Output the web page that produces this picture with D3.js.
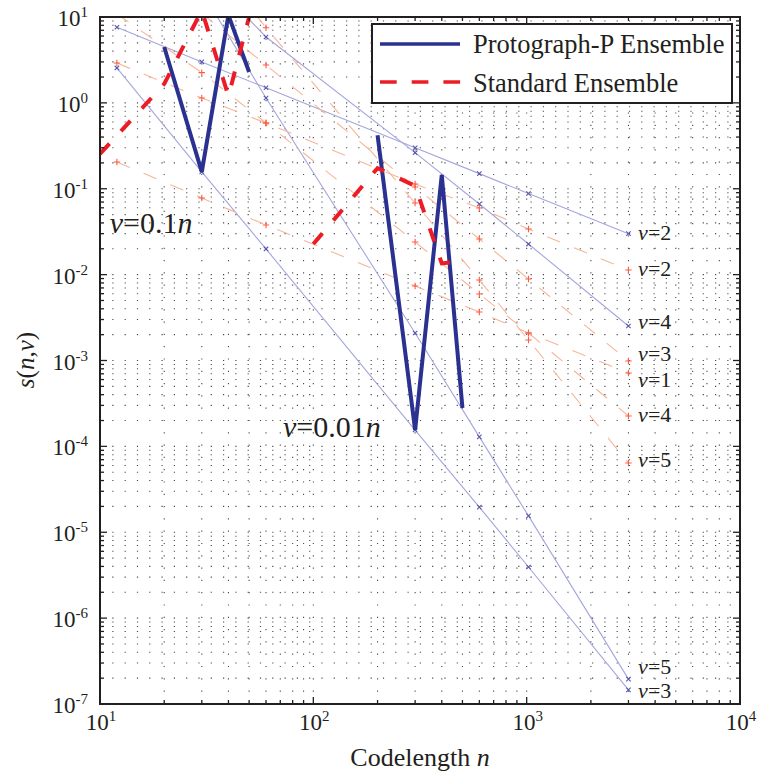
<!DOCTYPE html>
<html><head><meta charset="utf-8">
<script src="https://cdn.jsdelivr.net/npm/d3@7"></script>
<style>body{margin:0;background:#fff}svg{display:block}
text{font-family:'Liberation Serif','Times New Roman','DejaVu Serif',serif;}</style>
</head><body><svg id="c" width="758" height="771"></svg>
<script>
// ---- data ----
const nVals = [12, 30, 60, 300, 600, 1020, 3000];
const protoV2 = [7.6, 3.0, 1.5, 0.30, 0.15, 0.088, 0.030];
const protoV3 = [2.55, 0.157, 0.0199, 1.55e-4, 1.96e-5, 3.94e-6, 1.46e-7];
const protoV4 = [null, 35, 5.85, 0.263, 0.0664, 0.0227, 0.00252];
const protoV5 = [null, 20, 1.14, 2.09e-3, 1.29e-4, 1.55e-5, 1.95e-7];
const stdV1 = [0.205, 0.078, 0.0379, 0.00738, 0.00367, 0.00209, 7.15e-4];
const stdV2 = [2.91, 1.14, 0.583, 0.1136, 0.0597, 0.034, 0.0113];
const stdV3 = [null, 11, 2.76, 0.105, 0.026, 0.0089, 9.86e-4];
const stdV4 = [10.8, 2.25, 0.583, 0.024, 0.00594, 0.00209, 2.26e-4];
const stdV5 = [null, 67, 7.5, 0.0682, 0.00866, 0.00173, 6.4e-5];

const protoTenthN = [20, 30, 40, 50];
const protoTenthS = [4.47, 0.157, 10.5, 2.29];
const protoHundN = [200, 300, 400, 500];
const protoHundS = [0.42, 1.55e-4, 0.145, 2.8e-4];
const stdTenthN = [10, 20, 30, 40, 50];
const stdTenthS = [0.254, 1.66, 12, 1.2, 10];
const stdHundN = [100, 200, 300, 400, 500];
const stdHundS = [0.0227, 0.174, 0.108, 0.0135, 0.0144];

const legendLabels = ["Protograph-P Ensemble", "Standard Ensemble"];
const xTickLabels = ["1", "2", "3", "4"];
const yTickLabels = ["-7", "-6", "-5", "-4", "-3", "-2", "-1", "0", "1"];
const endLabelText = ["2", "2", "4", "3", "1", "4", "5", "5", "3"];
const endLabelS = [0.0253, 0.00964, 0.00233, 9.8e-4, 4.95e-4, 1.92e-4, 5.75e-5, 2.23e-7, 1.17e-7];
const endLabelN = 3330;

// ---- layout ----
const svg = d3.select('#c');
const L = 100, R = 740, T = 17, B = 704;
const x = d3.scaleLog().domain([10, 1e4]).range([L, R]);
const y = d3.scaleLog().domain([1e-7, 10]).range([B, T]);
const INK = '#231f20';

svg.append('rect').attr('width', 758).attr('height', 771).attr('fill', '#fff');
svg.append('defs').append('clipPath').attr('id', 'clip')
  .append('rect').attr('x', L).attr('y', T).attr('width', R - L).attr('height', B - T);

const isMajor = v => Math.abs(Math.log10(v) - Math.round(Math.log10(v))) < 1e-6;
const xt = x.ticks();
const yt = y.ticks();

// grid (dotted)
const grid = svg.append('g').attr('stroke', '#4a4a4a').attr('stroke-width', 1.1)
  .attr('stroke-dasharray', '1.2,11.1');
xt.filter(v => v > 10 && v < 1e4).forEach(v => {
  grid.append('line').attr('x1', x(v)).attr('x2', x(v)).attr('y1', B).attr('y2', T);
});
yt.filter(v => v > 1.0001e-7 && v < 9.999).forEach(v => {
  grid.append('line').attr('x1', L).attr('x2', R).attr('y1', y(v)).attr('y2', y(v));
});

const plot = svg.append('g').attr('clip-path', 'url(#clip)');
const line = d3.line().defined(d => d[1] != null).x(d => x(d[0])).y(d => y(d[1]));
const zipN = (ns, ss) => ns.map((n, i) => [n, ss[i]]);

// thin protograph lines
const protoSeries = [protoV2, protoV3, protoV4, protoV5];
protoSeries.forEach(s => {
  plot.append('path').attr('d', line(zipN(nVals, s))).attr('fill', 'none')
    .attr('stroke', '#a4a6dc').attr('stroke-width', 1.1);
});
// thin standard lines
const stdSeries = [stdV1, stdV2, stdV3, stdV4, stdV5];
stdSeries.forEach(s => {
  plot.append('path').attr('d', line(zipN(nVals, s))).attr('fill', 'none')
    .attr('stroke', '#f7b598').attr('stroke-width', 1.1).attr('stroke-dasharray', '14,15');
});
// markers
protoSeries.forEach(s => {
  zipN(nVals, s).filter(d => d[1] != null).forEach(d => {
    const cx = x(d[0]), cy = y(d[1]), r = 2.2;
    plot.append('path').attr('d', `M${cx - r},${cy - r}L${cx + r},${cy + r}M${cx - r},${cy + r}L${cx + r},${cy - r}`)
      .attr('stroke', '#5656b0').attr('stroke-width', 1.1);
  });
});
stdSeries.forEach(s => {
  zipN(nVals, s).filter(d => d[1] != null).forEach(d => {
    const cx = x(d[0]), cy = y(d[1]), r = 3.2;
    plot.append('path').attr('d', `M${cx - r},${cy}L${cx + r},${cy}M${cx},${cy - r}L${cx},${cy + r}`)
      .attr('stroke', '#ff5a44').attr('stroke-width', 1.1);
  });
});

// bold lines
[[protoTenthN, protoTenthS], [protoHundN, protoHundS]].forEach(([ns, ss]) => {
  plot.append('path').attr('d', line(zipN(ns, ss))).attr('fill', 'none')
    .attr('stroke', '#2b3190').attr('stroke-width', 4).attr('stroke-linejoin', 'miter');
});
[[stdTenthN, stdTenthS], [stdHundN, stdHundS]].forEach(([ns, ss]) => {
  plot.append('path').attr('d', line(zipN(ns, ss))).attr('fill', 'none')
    .attr('stroke', '#ed1c24').attr('stroke-width', 4).attr('stroke-dasharray', '14,17');
});

// annotations
function nuText(g, px, py, size, rest) {
  const t = g.append('text').attr('x', px).attr('y', py)
    .attr('font-size', size).attr('fill', INK);
  t.append('tspan').attr('font-style', 'italic').text('\u03bd');
  t.append('tspan').text('=' + rest.num);
  if (rest.n) t.append('tspan').attr('font-style', 'italic').text('n');
  return t;
}
const ann = svg.append('g');
endLabelText.forEach((t, i) => nuText(ann, x(endLabelN), y(endLabelS[i]), 22, {num: t}));
nuText(ann, x(11.1), y(0.0305), 30, {num: '0.1', n: true});
nuText(ann, x(72), y(1.29e-4), 30, {num: '0.01', n: true});

// axes box
const ax = svg.append('g').attr('stroke', INK);
ax.append('rect').attr('x', L).attr('y', T).attr('width', R - L).attr('height', B - T)
  .attr('fill', 'none').attr('stroke-width', 2);
xt.forEach(v => {
  const len = isMajor(v) ? 7 : 4;
  ax.append('line').attr('x1', x(v)).attr('x2', x(v)).attr('y1', B).attr('y2', B - len).attr('stroke-width', 1.3);
  ax.append('line').attr('x1', x(v)).attr('x2', x(v)).attr('y1', T).attr('y2', T + len).attr('stroke-width', 1.3);
});
yt.forEach(v => {
  const len = isMajor(v) ? 7 : 4;
  ax.append('line').attr('x1', L).attr('x2', L + len).attr('y1', y(v)).attr('y2', y(v)).attr('stroke-width', 1.3);
  ax.append('line').attr('x1', R).attr('x2', R - len).attr('y1', y(v)).attr('y2', y(v)).attr('stroke-width', 1.3);
});

// tick labels
const xMaj = xt.filter(isMajor);
xMaj.forEach((v, i) => {
  const t = svg.append('text').attr('x', x(v) + 1).attr('y', 730).attr('text-anchor', 'middle')
    .attr('font-size', 23).attr('fill', INK);
  t.append('tspan').text('10');
  t.append('tspan').attr('font-size', 15).attr('dy', -9).text(xTickLabels[i]);
});
const yMaj = yt.filter(isMajor);
yMaj.forEach((v, i) => {
  const t = svg.append('text').attr('x', 88).attr('y', y(v) + 9).attr('text-anchor', 'end')
    .attr('font-size', 23).attr('fill', INK);
  t.append('tspan').text('10');
  t.append('tspan').attr('font-size', 15).attr('dy', -9).text(yTickLabels[i]);
});

// axis titles
const xl = svg.append('text').attr('x', 420).attr('y', 766).attr('text-anchor', 'middle')
  .attr('font-size', 26).attr('fill', INK);
xl.append('tspan').text('Codelength ');
xl.append('tspan').attr('font-style', 'italic').text('n');
const yl = svg.append('text').attr('transform', 'translate(34,360) rotate(-90)').attr('text-anchor', 'middle')
  .attr('font-size', 25).attr('fill', INK);
yl.append('tspan').attr('font-style', 'italic').text('s');
yl.append('tspan').text('(');
yl.append('tspan').attr('font-style', 'italic').text('n');
yl.append('tspan').text(',');
yl.append('tspan').attr('font-style', 'italic').text('\u03bd');
yl.append('tspan').text(')');

// legend
const lg = svg.append('g');
lg.append('rect').attr('x', 372).attr('y', 24).attr('width', 360).attr('height', 79)
  .attr('fill', '#fff').attr('stroke', INK).attr('stroke-width', 2);
lg.append('line').attr('x1', 380).attr('x2', 460).attr('y1', 44).attr('y2', 44)
  .attr('stroke', '#2b3190').attr('stroke-width', 3.5);
lg.append('line').attr('x1', 380).attr('x2', 461).attr('y1', 82).attr('y2', 82)
  .attr('stroke', '#ed1c24').attr('stroke-width', 3.5).attr('stroke-dasharray', '16.7,15');
legendLabels.forEach((t, i) => {
  lg.append('text').attr('x', 473).attr('y', i === 0 ? 53 : 92)
    .attr('font-size', 26.5).attr('fill', INK).text(t);
});
</script></body></html>
